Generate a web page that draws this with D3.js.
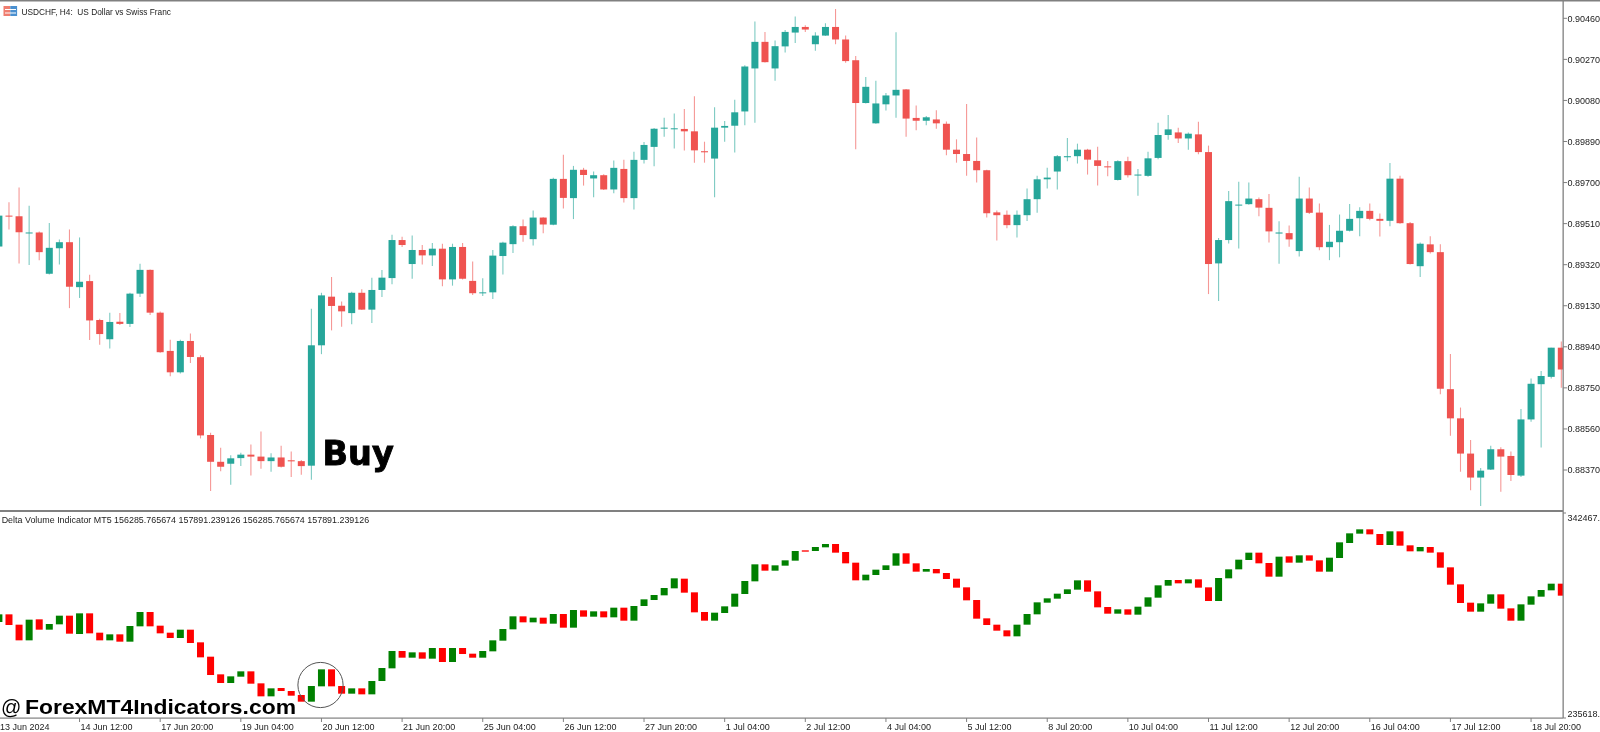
<!DOCTYPE html>
<html>
<head>
<meta charset="utf-8">
<title>USDCHF H4 with Delta Volume Indicator</title>
<script src="https://cdn.jsdelivr.net/npm/d3@7"></script>
<style>
  html, body { margin: 0; padding: 0; background: #fff; overflow: hidden; }
  svg { display: block; filter: blur(0.35px); }
  text { font-family: "Liberation Sans", sans-serif; font-size: 9px; fill: #222; white-space: pre; }
</style>
</head>
<body>
<div id="chart"></div>
<script>
var candleOpen = [
  0.89404,0.89547,0.89544,0.89466,0.89469,0.89278,0.89396,0.89424,0.89216,0.89244,
  0.89064,0.88975,0.89056,0.89046,0.89186,0.89296,0.89098,0.88921,0.88822,0.88967,
  0.88892,0.88532,0.88408,0.88399,0.88425,0.88441,0.88432,0.88411,0.88428,0.88415,
  0.88411,0.88390,0.88947,0.89172,0.89130,0.89096,0.89190,0.89112,0.89203,0.89258,
  0.89434,0.89323,0.89388,0.89363,0.89394,0.89252,0.89402,0.89245,0.89188,0.89192,
  0.89360,0.89415,0.89498,0.89438,0.89538,0.89505,0.89717,0.89628,0.89759,0.89719,
  0.89734,0.89668,0.89763,0.89628,0.89805,0.89865,0.89951,0.89948,0.89948,0.89937,
  0.89845,0.89811,0.89954,0.89963,0.90029,0.90228,0.90351,0.90228,0.90330,0.90394,
  0.90420,0.90340,0.90380,0.90420,0.90362,0.90266,0.90068,0.89974,0.90062,0.90103,
  0.90131,0.89999,0.89986,0.89992,0.89972,0.89852,0.89832,0.89800,0.89757,0.89562,
  0.89551,0.89503,0.89549,0.89623,0.89715,0.89751,0.89817,0.89822,0.89852,0.89803,
  0.89775,0.89712,0.89799,0.89734,0.89731,0.89814,0.89920,0.89932,0.89904,0.89923,
  0.89841,0.89326,0.89434,0.89594,0.89600,0.89623,0.89583,0.89464,0.89466,0.89383,
  0.89626,0.89561,0.89401,0.89424,0.89477,0.89535,0.89569,0.89532,0.89523,0.89718,
  0.89512,0.89313,0.89414,0.89378,0.88744,0.88609,0.88446,0.88335,0.88372,0.88466,
  0.88435,0.88344,0.88604,0.88767,0.88801,0.88936
];
var candleHigh = [
  0.89552,0.89609,0.89677,0.89593,0.89473,0.89513,0.89436,0.89483,0.89446,0.89273,
  0.89070,0.89098,0.89096,0.89190,0.89324,0.89298,0.89103,0.88973,0.88973,0.89002,
  0.88901,0.88542,0.88473,0.88438,0.88450,0.88488,0.88548,0.88448,0.88482,0.88456,
  0.88416,0.89116,0.89190,0.89263,0.89150,0.89195,0.89206,0.89259,0.89295,0.89458,
  0.89449,0.89455,0.89411,0.89420,0.89417,0.89417,0.89420,0.89335,0.89257,0.89388,
  0.89426,0.89502,0.89529,0.89571,0.89540,0.89722,0.89829,0.89777,0.89768,0.89751,
  0.89739,0.89802,0.89805,0.89842,0.89888,0.89952,0.90000,0.90019,0.90040,0.90099,
  0.89889,0.90049,0.89985,0.90083,0.90243,0.90445,0.90397,0.90357,0.90406,0.90468,
  0.90428,0.90396,0.90437,0.90503,0.90380,0.90285,0.90188,0.90171,0.90114,0.90396,
  0.90133,0.90057,0.90008,0.90034,0.89982,0.89900,0.90063,0.89909,0.89759,0.89571,
  0.89571,0.89571,0.89672,0.89731,0.89769,0.89828,0.89906,0.89880,0.89856,0.89866,
  0.89800,0.89803,0.89819,0.89763,0.89843,0.89977,0.90012,0.89954,0.89932,0.89981,
  0.89871,0.89443,0.89661,0.89704,0.89700,0.89631,0.89647,0.89521,0.89501,0.89727,
  0.89677,0.89603,0.89504,0.89552,0.89601,0.89586,0.89603,0.89557,0.89791,0.89732,
  0.89517,0.89423,0.89452,0.89414,0.88907,0.88659,0.88509,0.88379,0.88482,0.88475,
  0.88456,0.88652,0.88793,0.88828,0.88936,0.88965
];
var candleLow = [
  0.89401,0.89483,0.89326,0.89318,0.89340,0.89275,0.89321,0.89119,0.89166,0.88972,
  0.88949,0.88932,0.89041,0.89032,0.89170,0.89087,0.88913,0.88804,0.88816,0.88865,
  0.88516,0.88273,0.88364,0.88302,0.88388,0.88344,0.88376,0.88362,0.88382,0.88338,
  0.88348,0.88325,0.88906,0.89016,0.89033,0.89044,0.89110,0.89050,0.89171,0.89229,
  0.89402,0.89255,0.89321,0.89314,0.89220,0.89223,0.89252,0.89180,0.89175,0.89161,
  0.89275,0.89374,0.89426,0.89409,0.89466,0.89503,0.89580,0.89531,0.89686,0.89632,
  0.89665,0.89651,0.89608,0.89575,0.89788,0.89775,0.89912,0.89857,0.89848,0.89792,
  0.89792,0.89632,0.89889,0.89839,0.89965,0.89977,0.90256,0.90171,0.90302,0.90346,
  0.90397,0.90310,0.90379,0.90340,0.90254,0.89854,0.90066,0.89972,0.90033,0.90000,
  0.89912,0.89942,0.89965,0.89949,0.89826,0.89792,0.89732,0.89700,0.89538,0.89432,
  0.89489,0.89446,0.89522,0.89560,0.89672,0.89668,0.89799,0.89788,0.89737,0.89686,
  0.89729,0.89709,0.89723,0.89639,0.89727,0.89808,0.89898,0.89883,0.89852,0.89831,
  0.89184,0.89152,0.89418,0.89395,0.89597,0.89544,0.89423,0.89324,0.89403,0.89358,
  0.89554,0.89387,0.89341,0.89354,0.89474,0.89452,0.89526,0.89450,0.89498,0.89509,
  0.89321,0.89263,0.89372,0.88721,0.88529,0.88362,0.88276,0.88204,0.88370,0.88269,
  0.88319,0.88338,0.88593,0.88474,0.88793,0.88751
];
var candleClose = [
  0.89547,0.89543,0.89470,0.89469,0.89378,0.89398,0.89424,0.89218,0.89241,0.89062,
  0.88999,0.89055,0.89046,0.89186,0.89296,0.89098,0.88915,0.88822,0.88967,0.88893,
  0.88530,0.88408,0.88385,0.88424,0.88441,0.88432,0.88411,0.88428,0.88385,0.88410,
  0.88388,0.88947,0.89178,0.89129,0.89104,0.89190,0.89112,0.89203,0.89260,0.89434,
  0.89411,0.89388,0.89363,0.89394,0.89252,0.89402,0.89255,0.89188,0.89192,0.89362,
  0.89422,0.89498,0.89457,0.89538,0.89506,0.89717,0.89629,0.89759,0.89735,0.89734,
  0.89668,0.89768,0.89628,0.89805,0.89874,0.89949,0.89954,0.89951,0.89937,0.89849,
  0.89840,0.89954,0.89962,0.90025,0.90237,0.90351,0.90257,0.90331,0.90397,0.90420,
  0.90408,0.90380,0.90420,0.90362,0.90262,0.90068,0.90143,0.90066,0.90103,0.90129,
  0.89996,0.89986,0.90002,0.89974,0.89852,0.89832,0.89800,0.89757,0.89558,0.89549,
  0.89503,0.89551,0.89623,0.89715,0.89723,0.89822,0.89822,0.89852,0.89806,0.89777,
  0.89771,0.89799,0.89734,0.89737,0.89812,0.89920,0.89946,0.89904,0.89926,0.89841,
  0.89323,0.89434,0.89614,0.89598,0.89626,0.89584,0.89474,0.89469,0.89437,0.89626,
  0.89560,0.89401,0.89426,0.89477,0.89532,0.89569,0.89532,0.89523,0.89718,0.89512,
  0.89323,0.89417,0.89378,0.88746,0.88609,0.88446,0.88335,0.88367,0.88466,0.88432,
  0.88347,0.88604,0.88769,0.88805,0.88936,0.88835
];

var deltaOpen = [
  285488,289676,284031,275472,286945,281300,284213,288948,278932,290222,
  279661,275472,278750,274744,283121,290951,283485,279661,276747,281300,
  274380,266549,256898,252164,255623,258537,251981,244880,249432,247793,
  245608,241966,250343,259630,250525,246336,249250,245972,253256,260176,
  269645,266003,268917,265457,271284,263636,271284,268188,266003,269463,
  275290,281482,288584,285306,287855,284577,289858,282392,291861,288401,
  291315,288037,293318,286216,294229,297506,300056,303880,309161,301695,
  290951,286216,290405,293864,300784,307704,316991,313531,316263,318994,
  324639,324275,326278,328099,323729,317902,308250,311164,313895,316263,
  323000,317537,312985,314442,312257,309161,304426,297506,287491,284031,
  280935,277658,284031,289676,296050,298235,300784,303152,308250,302241,
  293682,290040,292408,289494,293864,298781,305337,308432,306611,308797,
  304426,296960,309343,314260,319358,323365,317720,310253,321362,317902,
  321908,319176,312985,320451,328646,333744,336112,333562,327553,335019,
  327371,324093,326460,323547,315352,306065,296050,291133,295503,300602,
  292954,286216,294957,299327,302787,306429
];
var deltaClose = [
  289676,283849,275472,286763,281300,284395,288948,279114,290222,279296,
  275472,278750,274744,283303,290951,283121,279296,276747,281300,274016,
  266185,256534,252164,255806,258537,251799,244880,249250,247793,245244,
  241966,250525,259630,250343,246336,249250,245972,253256,260358,269645,
  266003,268917,265457,271284,263636,271284,268006,266003,269645,275472,
  281664,288584,285306,287855,284577,289858,282392,292043,288401,291315,
  288037,293318,286216,294229,297871,300238,304062,309343,301513,290769,
  286216,290587,294047,300966,307886,316991,313531,316445,319176,324275,
  323911,326460,328099,323365,317537,308250,311346,314078,316445,323000,
  317355,312985,314442,312074,308979,304244,297324,287309,283849,280753,
  277658,284031,289858,296232,298417,300966,303334,308250,302059,293500,
  290040,292408,289494,293864,298963,305519,308432,306611,308797,304244,
  296960,309525,314260,319541,323365,317537,310253,321179,317902,321908,
  318994,312985,320633,329010,333926,336112,333380,327553,335019,327189,
  324093,326460,323365,315170,305883,295868,291133,295685,300602,292772,
  286216,295139,299510,302969,306429,299874
];

var priceTicks = [0.90460,0.90270,0.90080,0.89890,0.89700,0.89510,0.89320,0.89130,0.88940,0.88750,0.88560,0.88370];
var deltaTicks = [342467,235618];
var timeLabels = [
  "13 Jun 2024","14 Jun 12:00","17 Jun 20:00","19 Jun 04:00","20 Jun 12:00","21 Jun 20:00","25 Jun 04:00",
  "26 Jun 12:00","27 Jun 20:00","1 Jul 04:00","2 Jul 12:00","4 Jul 04:00","5 Jul 12:00","8 Jul 20:00",
  "10 Jul 04:00","11 Jul 12:00","12 Jul 20:00","16 Jul 04:00","17 Jul 12:00","18 Jul 20:00"
];
var BARS_PER_LABEL = 8;

var width = 1600, height = 732;
var axisX = 1563;
var mainBottom = 510, deltaTop = 512, deltaBottom = 718;
var BODY_W = 7;
var UP = "#26a69a", DOWN = "#ef5350", DELTA_UP = "#008000", DELTA_DOWN = "#ff0000", FRAME = "#808080";

var svg = d3.select("#chart").append("svg").attr("width", width).attr("height", height);

// clip panes so the last bar is cut by the price axis like in the terminal
svg.append("clipPath").attr("id", "clipMain").append("rect").attr("width", axisX).attr("height", mainBottom);
svg.append("clipPath").attr("id", "clipDelta").append("rect").attr("y", deltaTop).attr("width", axisX).attr("height", deltaBottom - deltaTop);

var x = d3.scaleLinear().domain([0, 155]).range([-1.1, 1561.3]);
var y = d3.scaleLinear().domain([0.88370, 0.90460]).range([470, 18.3]);
var yDelta = d3.scaleLinear().domain([235618, 342467]).range([713.3, 517.7]);

var idx = d3.range(candleOpen.length);

// candles
var main = svg.append("g").attr("clip-path", "url(#clipMain)");
main.selectAll("line.wick").data(idx).enter().append("line")
  .attr("class", "wick")
  .attr("x1", function (i) { return x(i); })
  .attr("x2", function (i) { return x(i); })
  .attr("y1", function (i) { return y(candleHigh[i]); })
  .attr("y2", function (i) { return y(candleLow[i]); })
  .attr("stroke", function (i) { return candleClose[i] >= candleOpen[i] ? UP : DOWN; })
  .attr("stroke-width", 1.1)
  .attr("stroke-opacity", 0.6);
main.selectAll("rect.body").data(idx).enter().append("rect")
  .attr("class", "body")
  .attr("x", function (i) { return x(i) - BODY_W / 2; })
  .attr("y", function (i) { return y(Math.max(candleOpen[i], candleClose[i])); })
  .attr("width", BODY_W)
  .attr("height", function (i) { return Math.max(1, Math.abs(y(candleOpen[i]) - y(candleClose[i]))); })
  .attr("fill", function (i) { return candleClose[i] >= candleOpen[i] ? UP : DOWN; });

// delta volume bars
svg.append("g").attr("clip-path", "url(#clipDelta)")
  .selectAll("rect").data(idx).enter().append("rect")
  .attr("x", function (i) { return x(i) - BODY_W / 2; })
  .attr("y", function (i) { return yDelta(Math.max(deltaOpen[i], deltaClose[i])); })
  .attr("width", BODY_W)
  .attr("height", function (i) { return Math.abs(yDelta(deltaOpen[i]) - yDelta(deltaClose[i])); })
  .attr("fill", function (i) { return deltaClose[i] >= deltaOpen[i] ? DELTA_UP : DELTA_DOWN; });

// frame
svg.append("rect").attr("width", width).attr("height", 1.5).attr("fill", FRAME);
svg.append("rect").attr("x", 0).attr("y", mainBottom).attr("width", axisX).attr("height", 2).attr("fill", FRAME);
svg.append("rect").attr("x", 0).attr("y", deltaBottom - 0.5).attr("width", axisX).attr("height", 1.2).attr("fill", FRAME);
svg.append("rect").attr("x", axisX - 0.5).attr("y", 0).attr("width", 1.3).attr("height", deltaBottom).attr("fill", FRAME);

// price axis
var priceAxis = svg.append("g").selectAll("g").data(priceTicks).enter().append("g")
  .attr("transform", function (d) { return "translate(" + axisX + "," + y(d) + ")"; });
priceAxis.append("line").attr("x2", 4).attr("stroke", FRAME);
priceAxis.append("text").attr("x", 4.5).attr("dy", "0.36em").text(function (d) { return d.toFixed(5); });

// delta axis, labels are cut by the window edge
svg.append("g").selectAll("text").data(deltaTicks).enter().append("text")
  .attr("x", axisX + 4.5)
  .attr("y", function (d) { return yDelta(d); })
  .attr("dy", "0.36em")
  .text(function (d) { return d + "."; });
svg.append("line").attr("x1", axisX).attr("x2", axisX + 3).attr("y1", deltaTop + 1).attr("y2", deltaTop + 1).attr("stroke", FRAME);
svg.append("line").attr("x1", axisX).attr("x2", axisX + 3).attr("y1", deltaBottom).attr("y2", deltaBottom).attr("stroke", FRAME);

// time axis
var timeAxis = svg.append("g").selectAll("g").data(timeLabels).enter().append("g")
  .attr("transform", function (d, n) { return "translate(" + x(n * BARS_PER_LABEL) + "," + deltaBottom + ")"; });
timeAxis.append("line").attr("y2", 4).attr("stroke", FRAME);
timeAxis.append("text").attr("x", function (d, n) { return n === 0 ? 1.1 : 1; }).attr("y", 12).text(function (d) { return d; });

// title + small terminal icon
var icon = svg.append("g");
icon.append("rect").attr("x", 3.5).attr("y", 6).attr("width", 6.8).attr("height", 10).attr("fill", "#ef7d6f");
icon.append("rect").attr("x", 10.3).attr("y", 6).attr("width", 6.8).attr("height", 10).attr("fill", "#4a90d0");
[9, 12.5].forEach(function (ly) {
  icon.append("rect").attr("x", 5).attr("y", ly).attr("width", 11).attr("height", 1).attr("fill", "#fff");
});
svg.append("text").attr("x", 21.5).attr("y", 15)
  .attr("textLength", 149.5).attr("lengthAdjust", "spacingAndGlyphs")
  .text("USDCHF, H4:  US Dollar vs Swiss Franc");
svg.append("text").attr("x", 1.7).attr("y", 523.3)
  .attr("textLength", 367.5).attr("lengthAdjust", "spacingAndGlyphs")
  .text("Delta Volume Indicator MT5 156285.765674 157891.239126 156285.765674 157891.239126");

// annotations
svg.append("text").attr("x", 322.5).attr("y", 465)
  .style("font-family", "'DejaVu Sans', sans-serif").style("font-weight", "bold").style("font-size", "33.5px")
  .style("fill", "#000").style("stroke", "#000").style("stroke-width", 0.9)
  .text("Buy");
svg.append("circle").attr("cx", 320.5).attr("cy", 685).attr("r", 22.6)
  .attr("fill", "none").attr("stroke", "#555").attr("stroke-width", 1);
svg.append("text").attr("x", 1).attr("y", 714)
  .style("font-size", "20px").style("fill", "#000")
  .text("@");
svg.append("text").attr("x", 25).attr("y", 714)
  .attr("textLength", 271).attr("lengthAdjust", "spacingAndGlyphs")
  .style("font-weight", "bold").style("font-size", "20px").style("fill", "#000")
  .text("ForexMT4Indicators.com");
</script>
</body>
</html>
